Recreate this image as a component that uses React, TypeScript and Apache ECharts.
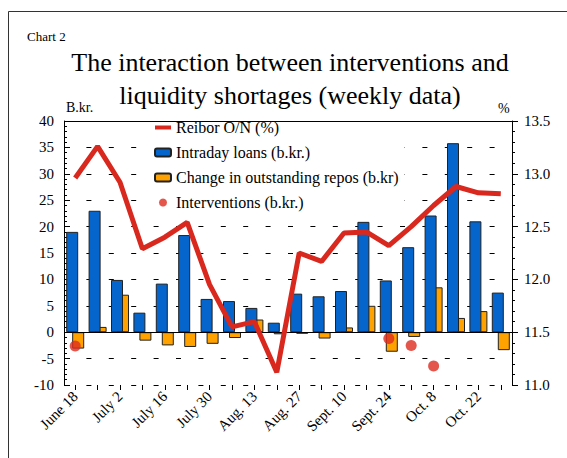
import React, { useEffect, useRef } from "react";
import * as echarts from "echarts";

const categories = [
  "June 18", "June 25", "July 2", "July 9", "July 16", "July 23", "July 30",
  "Aug. 6", "Aug. 13", "Aug. 20", "Aug. 27", "Sept. 3", "Sept. 10", "Sept. 17",
  "Sept. 24", "Oct. 1", "Oct. 8", "Oct. 15", "Oct. 22", "Oct. 29",
];
const intradayLoans = [19.0, 23.0, 9.9, 3.7, 9.2, 18.4, 6.3, 5.9, 4.6, 1.8, 7.3, 6.8, 7.8, 20.9, 9.8, 16.1, 22.1, 35.8, 21.0, 7.5];
const changeRepos = [-3.1, 1.0, 7.1, -1.6, -2.5, -2.8, -2.2, -1.1, 2.4, -0.4, -0.3, -1.2, 0.9, 5.0, -3.7, -0.9, 8.5, 2.7, 4.0, -3.4];
const interventions = [-2.6, null, null, null, null, null, null, null, null, null, null, null, null, null, -1.2, -2.5, -6.4, null, null, null];
const reibor = [12.96, 13.26, 12.92, 12.29, 12.4, 12.54, 11.95, 11.55, 11.6, 11.12, 12.25, 12.17, 12.44, 12.45, 12.32, 12.5, 12.7, 12.88, 12.82, 12.81];

const FONT = "Liberation Serif";

export default function App() {
  const ref = useRef<HTMLDivElement>(null);
  useEffect(() => {
    if (!ref.current) return;
    const chart = echarts.init(ref.current, null, { renderer: "svg" });
    chart.setOption({
      animation: false,
      backgroundColor: "#fff",
      textStyle: { fontFamily: FONT, color: "#000" },
      grid: { left: 64, right: 55, top: 121, bottom: 73, containLabel: false },
      graphic: [
        { type: "line", shape: { x1: 8.5, y1: 11.5, x2: 567, y2: 11.5 }, style: { stroke: "#333", lineWidth: 1 } },
        { type: "line", shape: { x1: 8.5, y1: 11.5, x2: 8.5, y2: 458 }, style: { stroke: "#333", lineWidth: 1 } },
        { type: "text", x: 27, y: 30, style: { text: "Chart 2", fontFamily: FONT, fontSize: 13, fill: "#000" } },
        { type: "text", x: 290, y: 49, style: { text: "The interaction between interventions and", fontFamily: FONT, fontSize: 26, fill: "#000", textAlign: "center" } },
        { type: "text", x: 290, y: 82, style: { text: "liquidity shortages (weekly data)", fontFamily: FONT, fontSize: 26, fill: "#000", textAlign: "center" } },
        { type: "text", x: 66, y: 100, style: { text: "B.kr.", fontFamily: FONT, fontSize: 14, fill: "#000" } },
        { type: "text", x: 498, y: 101, style: { text: "%", fontFamily: FONT, fontSize: 14, fill: "#000" } },
      ],
      legend: {
        orient: "vertical",
        left: 148,
        top: 116,
        padding: [3, 6, 3, 6],
        itemGap: 8,
        itemWidth: 16,
        itemHeight: 8,
        backgroundColor: "#fff",
        textStyle: { fontFamily: FONT, fontSize: 16, lineHeight: 17, color: "#000" },
        data: [
          { name: "Reibor O/N (%)", icon: "path://M0,0 L16,0 L16,4 L0,4 Z" },
          { name: "Intraday loans (b.kr.)" },
          { name: "Change in outstanding repos (b.kr)" },
          { name: "Interventions (b.kr.)" },
        ],
      },
      xAxis: {
        type: "category",
        data: categories,
        boundaryGap: true,
        axisLine: { show: false, onZero: false },
        axisTick: { show: true, alignWithLabel: true, interval: 0, length: 5, lineStyle: { color: "#000" } },
        axisLabel: { interval: 1, rotate: 45, fontSize: 15, fontFamily: FONT, color: "#000", margin: 9 },
        splitLine: { show: false },
      },
      yAxis: [
        {
          type: "value",
          min: -10,
          max: 40,
          interval: 5,
          axisLine: { show: true, lineStyle: { color: "#000" } },
          axisTick: { show: true, inside: true, length: 6, lineStyle: { color: "#000" } },
          minorTick: { show: true, splitNumber: 5, length: 3, lineStyle: { color: "#000" } },
          axisLabel: { fontSize: 15, fontFamily: FONT, color: "#000", margin: 10 },
          splitLine: { show: true, lineStyle: { color: "#000", type: [5, 17.4], width: 1 } },
        },
        {
          type: "value",
          min: 11,
          max: 13.5,
          interval: 0.5,
          position: "right",
          axisLine: { show: true, lineStyle: { color: "#000" } },
          axisTick: { show: true, inside: false, length: 6, lineStyle: { color: "#000" } },
          minorTick: { show: true, splitNumber: 5, length: 3, lineStyle: { color: "#000" } },
          axisLabel: { fontSize: 15, fontFamily: FONT, color: "#000", margin: 12, formatter: (v: number) => v.toFixed(1) },
          splitLine: { show: false },
        },
      ],
      series: [
        {
          name: "Intraday loans (b.kr.)",
          type: "bar",
          data: intradayLoans,
          barWidth: 12,
          barGap: "-50%",
          z: 3,
          itemStyle: { color: "#0565cc", borderColor: "#222", borderWidth: 1 },
          markLine: {
            silent: true,
            symbol: ["none", "none"],
            label: { show: false },
            lineStyle: { color: "#000", type: "solid", width: 1 },
            data: [{ yAxis: 0 }, { yAxis: 40 }],
          },
        },
        {
          name: "Change in outstanding repos (b.kr)",
          type: "bar",
          data: changeRepos,
          barWidth: 12,
          barGap: "-50%",
          z: 2,
          itemStyle: { color: "#ffa200", borderColor: "#222", borderWidth: 1 },
        },
        {
          name: "Reibor O/N (%)",
          type: "line",
          yAxisIndex: 1,
          data: reibor,
          symbol: "none",
          z: 5,
          lineStyle: { color: "#d9281e", width: 5 },
          itemStyle: { color: "#d9281e" },
        },
        {
          name: "Interventions (b.kr.)",
          type: "scatter",
          data: interventions,
          symbol: "circle",
          symbolSize: 11,
          z: 6,
          itemStyle: { color: "#dd2a1e" },
        },
      ],
    });
    return () => chart.dispose();
  }, []);
  return (
    <div
      ref={ref}
      style={{ position: "fixed", left: 0, top: 0, width: 567, height: 458 }}
    />
  );
}
